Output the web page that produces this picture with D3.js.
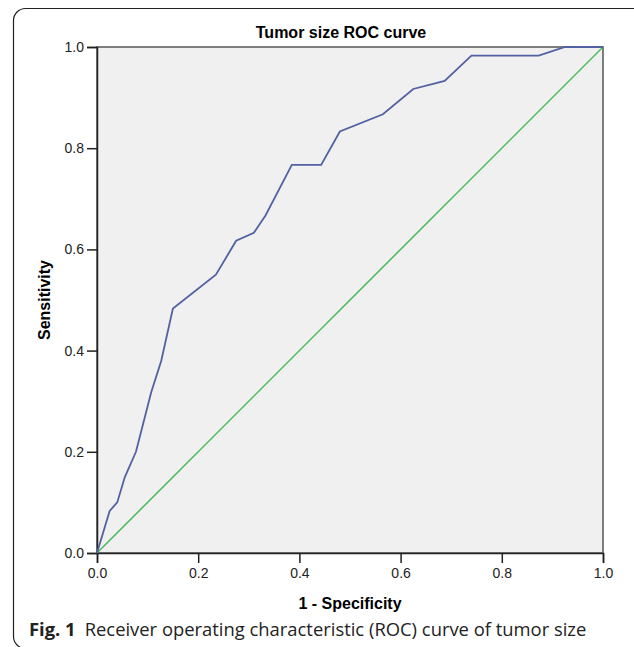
<!DOCTYPE html>
<html lang="en">
<head>
    <meta charset="UTF-8">
    <script src="https://cdn.jsdelivr.net/npm/d3@7"></script>
    <title>Tumor size ROC curve</title>
    <style>
        body {
            margin: 0;
            background: white;
        }
    </style>
</head>
<body>
<div id="chart"></div>

<script>
    const width = 634;
    const height = 647;

    // ROC curve points
    const fpr = [0, 0.025, 0.04, 0.055, 0.077, 0.107, 0.127, 0.15, 0.235, 0.275, 0.31, 0.333, 0.385, 0.443, 0.48, 0.565, 0.625, 0.687, 0.74, 0.873, 0.925, 1];
    const tpr = [0, 0.083, 0.1, 0.15, 0.2, 0.317, 0.38, 0.483, 0.55, 0.617, 0.633, 0.667, 0.767, 0.767, 0.833, 0.867, 0.917, 0.933, 0.983, 0.983, 1, 1];
    const refLine = [0, 1];
    const ticks = [0, 0.2, 0.4, 0.6, 0.8, 1.0];

    const margin = {top: 47, right: 31, bottom: 94, left: 97};
    const sans = "Liberation Sans, Arial, sans-serif";

    const svg = d3.select("#chart").append("svg")
        .attr("width", width)
        .attr("height", height);

    // card outline (right side runs off the page)
    svg.append("rect")
        .attr("x", 13.5)
        .attr("y", 8.5)
        .attr("width", 660)
        .attr("height", 640)
        .attr("rx", 12)
        .attr("fill", "none")
        .attr("stroke", "#222")
        .attr("stroke-width", 1.2);

    const x = d3.scaleLinear().domain([0, 1]).range([margin.left, width - margin.right]);
    const y = d3.scaleLinear().domain([0, 1]).range([height - margin.bottom, margin.top]);

    svg.append("rect")
        .attr("x", x(0))
        .attr("y", y(1))
        .attr("width", x(1) - x(0))
        .attr("height", y(0) - y(1))
        .attr("fill", "#f0f0f0")
        .attr("stroke", "#555")
        .attr("stroke-width", 1.5);

    function styleAxis(g) {
        g.attr("font-family", sans).attr("font-size", 14);
        g.select(".domain").attr("stroke", "#222").attr("stroke-width", 1.5);
        g.selectAll(".tick line").attr("stroke", "#222").attr("stroke-width", 1.5);
        g.selectAll(".tick text").attr("fill", "#222");
    }

    svg.append("g")
        .attr("transform", `translate(0,${y(0)})`)
        .call(d3.axisBottom(x).tickValues(ticks).tickFormat(d3.format(".1f")).tickSize(10).tickPadding(5))
        .call(styleAxis);

    svg.append("g")
        .attr("transform", `translate(${x(0)},0)`)
        .call(d3.axisLeft(y).tickValues(ticks).tickFormat(d3.format(".1f")).tickSize(10).tickPadding(3))
        .call(styleAxis);

    svg.append("line")
        .attr("x1", x(refLine[0])).attr("y1", y(refLine[0]))
        .attr("x2", x(refLine[1])).attr("y2", y(refLine[1]))
        .attr("stroke", "#4cba5c")
        .attr("stroke-width", 1.5);

    const line = d3.line()
        .x((d, i) => x(fpr[i]))
        .y(d => y(d));

    svg.append("path")
        .datum(tpr)
        .attr("fill", "none")
        .attr("stroke", "#5261a3")
        .attr("stroke-width", 1.8)
        .attr("d", line);

    svg.append("text")
        .attr("x", 341)
        .attr("y", 38)
        .attr("text-anchor", "middle")
        .style("font-family", sans)
        .style("font-weight", "bold")
        .style("font-size", "16px")
        .text("Tumor size ROC curve");

    svg.append("text")
        .attr("x", (x(0) + x(1)) / 2)
        .attr("y", 609)
        .attr("text-anchor", "middle")
        .style("font-family", sans)
        .style("font-weight", "bold")
        .style("font-size", "16px")
        .text("1 - Specificity");

    svg.append("text")
        .attr("transform", `translate(50,${(y(0) + y(1)) / 2}) rotate(-90)`)
        .attr("text-anchor", "middle")
        .style("font-family", sans)
        .style("font-weight", "bold")
        .style("font-size", "16px")
        .text("Sensitivity");

    const caption = svg.append("text")
        .attr("x", 29)
        .attr("y", 636)
        .style("font-family", "Open Sans, sans-serif")
        .style("font-size", "18.4px")
        .style("fill", "#222");
    caption.append("tspan").style("font-weight", "bold").text("Fig. 1");
    caption.append("tspan").attr("dx", 9).text("Receiver operating characteristic (ROC) curve of tumor size");
</script>
</body>
</html>
